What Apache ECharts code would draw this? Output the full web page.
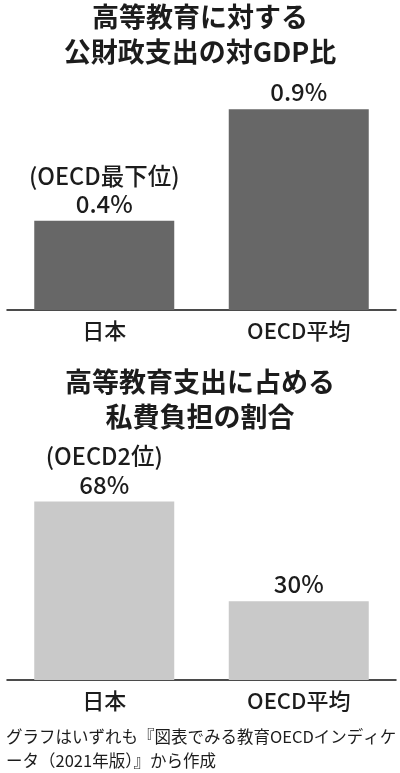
<!DOCTYPE html>
<html>
<head>
<meta charset="utf-8">
<script src="https://cdn.jsdelivr.net/npm/echarts@6/dist/echarts.min.js"></script>
<style>
html,body{margin:0;padding:0;background:#fff;}
#c{width:400px;height:773px;}
</style>
</head>
<body>
<div id="c"></div>
<script>
const categories = ['日本', 'OECD平均'];
const publicSpending = [0.4, 0.9];
const publicNotes = ['(OECD最下位)', ''];
const privateShare = [68, 30];
const privateNotes = ['(OECD2位)', ''];
const titleTop = '高等教育に対する\n公財政支出の対GDP比';
const titleBottom = '高等教育支出に占める\n私費負担の割合';
const footnote = 'グラフはいずれも『図表でみる教育OECDインディケ\nータ（2021年版）』から作成';

const FONT = '"Noto Sans CJK JP", "Noto Sans", sans-serif';
const TXT = '#1c1c1c';

function labelFor(notes, suffix) {
  return {
    show: true,
    position: 'top',
    distance: 3,
    formatter: function (p) {
      const n = notes[p.dataIndex];
      const v = '{v|' + p.value + suffix + '}';
      return n ? '{n|' + n + '}\n' + v : v;
    },
    rich: {
      n: { fontFamily: FONT, fontSize: 23.5, lineHeight: 28, color: TXT, fontWeight: 500 },
      v: { fontFamily: FONT, fontSize: 24, lineHeight: 28, color: TXT, fontWeight: 500 }
    }
  };
}

const chart = echarts.init(document.getElementById('c'), null, { renderer: 'canvas' });
const catAxis = (gi) => ({
  type: 'category', gridIndex: gi, data: categories,
  axisTick: { show: false },
  axisLine: { lineStyle: { color: '#111', width: 1.5 } },
  axisLabel: { fontFamily: FONT, fontSize: 22, lineHeight: 22, color: TXT, margin: 10, fontWeight: 500 }
});
const titleStyle = (txt, y) => ({
  type: 'text', x: 200, y: y,
  style: { text: txt, textAlign: 'center', textVerticalAlign: 'top',
    fontFamily: FONT, fontSize: 27, lineHeight: 35, fontWeight: 'bold', fill: TXT }
});
chart.setOption({
  animation: false,
  backgroundColor: '#fff',
  graphic: [
    titleStyle(titleTop, -1),
    titleStyle(titleBottom, 364),
    { type: 'text', x: 6, y: 725,
      style: { text: footnote, textAlign: 'left', textVerticalAlign: 'top',
        fontFamily: FONT, fontSize: 16.5, lineHeight: 24, fill: TXT } }
  ],
  grid: [
    { left: 7, right: 4, top: 87, height: 223 },
    { left: 7, right: 4, top: 470, height: 210 }
  ],
  xAxis: [catAxis(0), catAxis(1)],
  yAxis: [
    { type: 'value', gridIndex: 0, min: 0, max: 1, show: false },
    { type: 'value', gridIndex: 1, min: 0, max: 80, show: false }
  ],
  series: [
    { type: 'bar', xAxisIndex: 0, yAxisIndex: 0, data: publicSpending, barWidth: 140,
      itemStyle: { color: '#676767' }, label: labelFor(publicNotes, '%') },
    { type: 'bar', xAxisIndex: 1, yAxisIndex: 1, data: privateShare, barWidth: 140,
      itemStyle: { color: '#c9c9c9' }, label: labelFor(privateNotes, '%') }
  ]
});
</script>
</body>
</html>
